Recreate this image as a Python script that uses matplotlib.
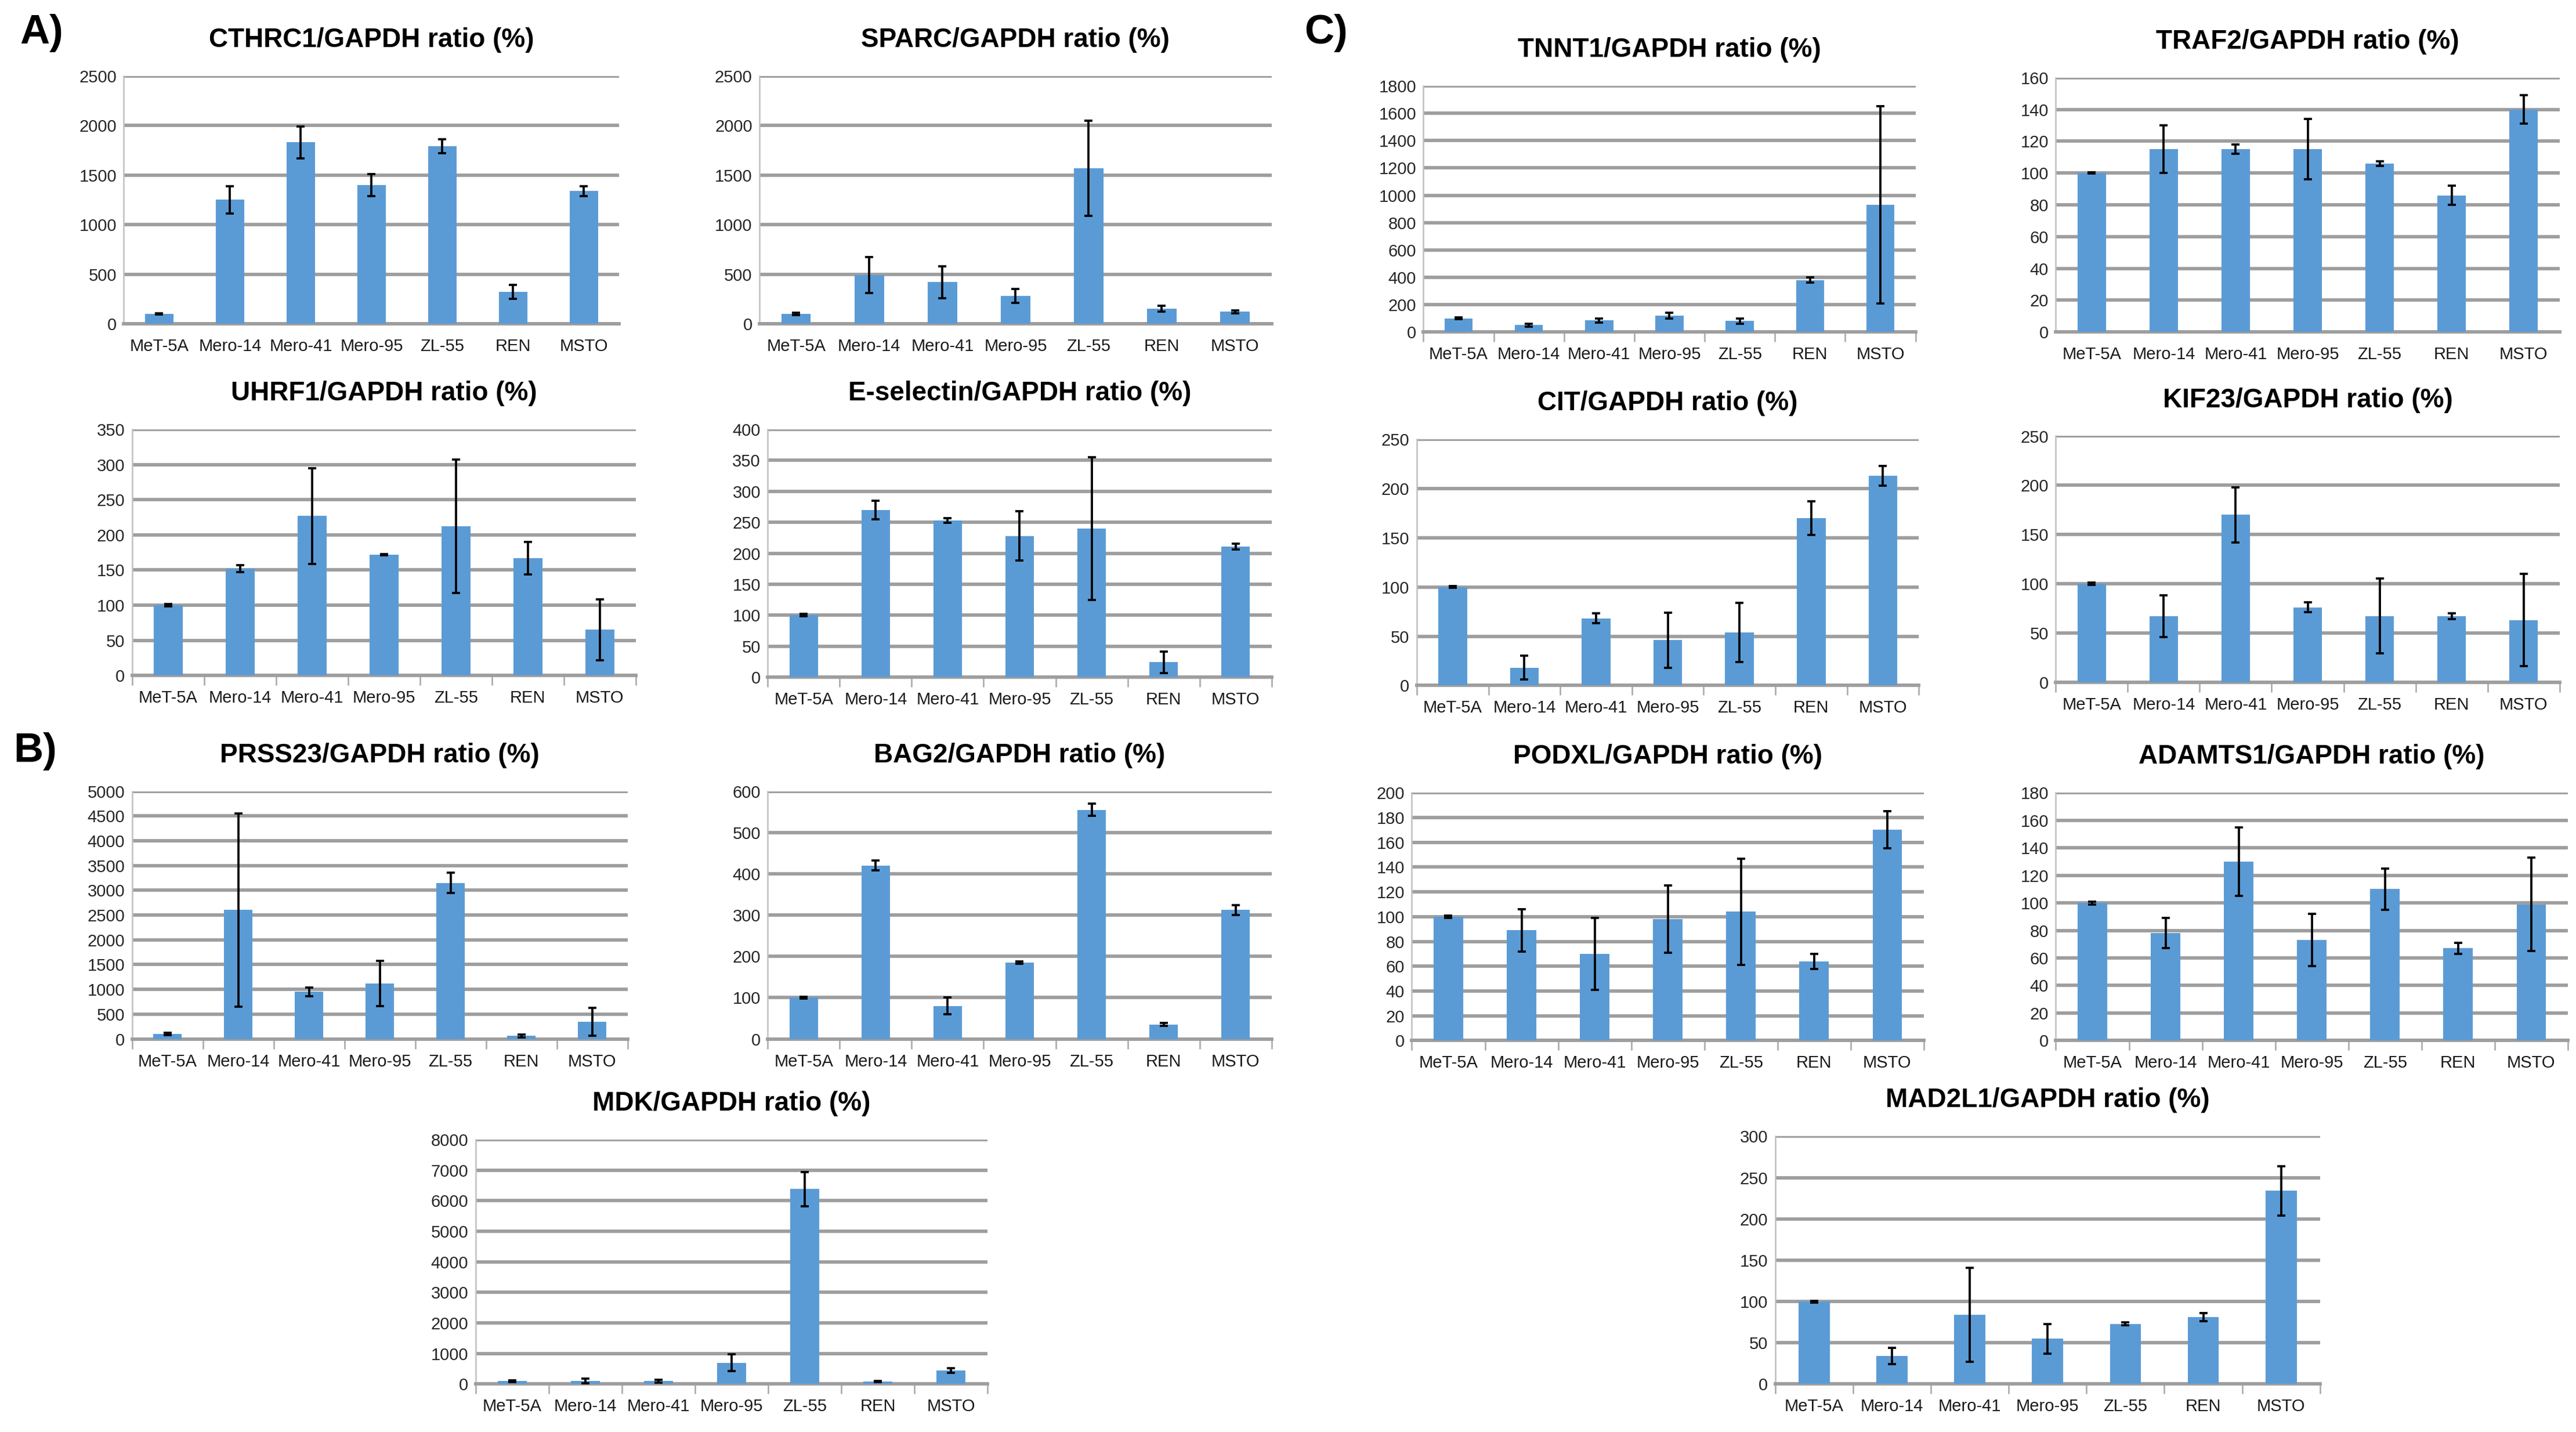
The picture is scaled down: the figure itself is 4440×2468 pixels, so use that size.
import matplotlib.pyplot as plt
from matplotlib.ticker import MultipleLocator, FixedLocator

plt.rcParams['font.family'] = ['Liberation Sans', 'DejaVu Sans']

cells = ['MeT-5A', 'Mero-14', 'Mero-41', 'Mero-95', 'ZL-55', 'REN', 'MSTO']

# mean ratio (%) and error bars
cthrc1 = [100, 1250, 1830, 1400, 1790, 320, 1340]
cthrc1_err = [5, 140, 160, 110, 70, 70, 50]
sparc = [100, 490, 420, 280, 1570, 150, 120]
sparc_err = [10, 180, 160, 70, 480, 30, 15]
tnnt1 = [100, 50, 85, 120, 80, 380, 930]
tnnt1_err = [5, 10, 15, 20, 20, 20, 720]
traf2 = [100, 115, 115, 115, 106, 86, 140]
traf2_err = [0.3, 15, 3, 19, 1.5, 6, 9]
uhrf1 = [100, 152, 227, 172, 212, 167, 65]
uhrf1_err = [2, 5, 68, 1, 95, 23, 43]
esel = [100, 270, 253, 228, 240, 24, 211]
esel_err = [2, 15, 4, 40, 115, 17, 5]
cit = [100, 18, 68, 46, 54, 170, 213]
cit_err = [1, 12, 5, 28, 30, 17, 10]
kif23 = [100, 67, 170, 76, 67, 67, 63]
kif23_err = [1, 21, 28, 5, 38, 3, 47]
prss23 = [100, 2600, 950, 1120, 3150, 60, 350]
prss23_err = [20, 1950, 90, 460, 200, 30, 280]
bag2 = [100, 420, 80, 185, 555, 35, 312]
bag2_err = [2, 12, 20, 3, 15, 4, 12]
podxl = [100, 89, 70, 98, 104, 64, 170]
podxl_err = [1, 17, 29, 27, 43, 6, 15]
adamts1 = [100, 78, 130, 73, 110, 67, 99]
adamts1_err = [1, 11, 25, 19, 15, 4, 34]
mdk = [100, 100, 100, 700, 6380, 80, 450]
mdk_err = [30, 80, 50, 270, 560, 20, 80]
mad2l1 = [100, 34, 84, 55, 73, 81, 234]
mad2l1_err = [1, 10, 57, 18, 1.5, 5, 30]

W, H = 1560.0, 867.0

def box(l, r, t, b):
    return [l / W, 1 - b / H, (r - l) / W, (b - t) / H]

# name, values, errors, ymax, ystep, (left, right, top, bottom) in px, separator ticks
panels = [
    ('CTHRC1', cthrc1, cthrc1_err, 2500, 500, (75, 375, 46, 196), False),
    ('SPARC', sparc, sparc_err, 2500, 500, (460, 770, 46, 196), False),
    ('TNNT1', tnnt1, tnnt1_err, 1800, 200, (862, 1160, 52, 201), True),
    ('TRAF2', traf2, traf2_err, 160, 20, (1245, 1550, 47, 201), False),
    ('UHRF1', uhrf1, uhrf1_err, 350, 50, (80, 385, 260, 409), True),
    ('E-selectin', esel, esel_err, 400, 50, (465, 770, 260, 410), True),
    ('CIT', cit, cit_err, 250, 50, (858, 1162, 266, 415), True),
    ('KIF23', kif23, kif23_err, 250, 50, (1245, 1550, 264, 413), True),
    ('PRSS23', prss23, prss23_err, 5000, 500, (80, 380, 479, 629), True),
    ('BAG2', bag2, bag2_err, 600, 100, (465, 770, 479, 629), True),
    ('PODXL', podxl, podxl_err, 200, 20, (855, 1165, 480, 630), True),
    ('ADAMTS1', adamts1, adamts1_err, 180, 20, (1245, 1555, 480, 630), True),
    ('MDK', mdk, mdk_err, 8000, 1000, (288, 598, 690, 838), True),
    ('MAD2L1', mad2l1, mad2l1_err, 300, 50, (1075, 1405, 688, 838), True),
]

fig = plt.figure(figsize=(14.8, 8.2267), dpi=300)

for name, vals, errs, ymax, step, (l, r, t, b), seps in panels:
    ax = fig.add_axes(box(l, r, t, b))
    x = list(range(len(cells)))
    ax.bar(x, vals, width=0.4, color='#5B9BD5', zorder=3,
           yerr=errs, error_kw=dict(ecolor='black', elinewidth=0.9, capsize=1.6, capthick=0.9, zorder=4))
    ax.set_xlim(-0.5, len(cells) - 0.5)
    ax.set_ylim(0, ymax)
    ax.yaxis.set_major_locator(MultipleLocator(step))
    ax.grid(axis='y', color='#9E9E9E', linewidth=1.4, zorder=0)
    ax.set_axisbelow(True)
    for s in ['top', 'right']:
        ax.spines[s].set_visible(False)
    ax.spines['left'].set_color('#BFBFBF')
    ax.spines['left'].set_linewidth(0.6)
    ax.spines['bottom'].set_color('#9E9E9E')
    ax.spines['bottom'].set_linewidth(1.4)
    ax.set_xticks(x)
    ax.set_xticklabels(cells, fontsize=7, color='#1a1a1a')
    ax.tick_params(axis='x', length=0, pad=6)
    ax.tick_params(axis='y', length=0, labelsize=7, colors='#262626', pad=3)
    if seps:
        ax.xaxis.set_minor_locator(FixedLocator([i - 0.5 for i in range(len(cells) + 1)]))
        ax.tick_params(axis='x', which='minor', length=4, color='#A6A6A6', width=0.6)
    ax.set_title(name + '/GAPDH ratio (%)', fontsize=11, fontweight='bold', pad=12)

fig.text(12 / W, 1 - 20 / H, 'A)', fontsize=17, fontweight='bold', va='center')
fig.text(8 / W, 1 - 455 / H, 'B)', fontsize=17, fontweight='bold', va='center')
fig.text(790 / W, 1 - 20 / H, 'C)', fontsize=17, fontweight='bold', va='center')

fig.savefig('out.png', dpi=300, facecolor='white')
